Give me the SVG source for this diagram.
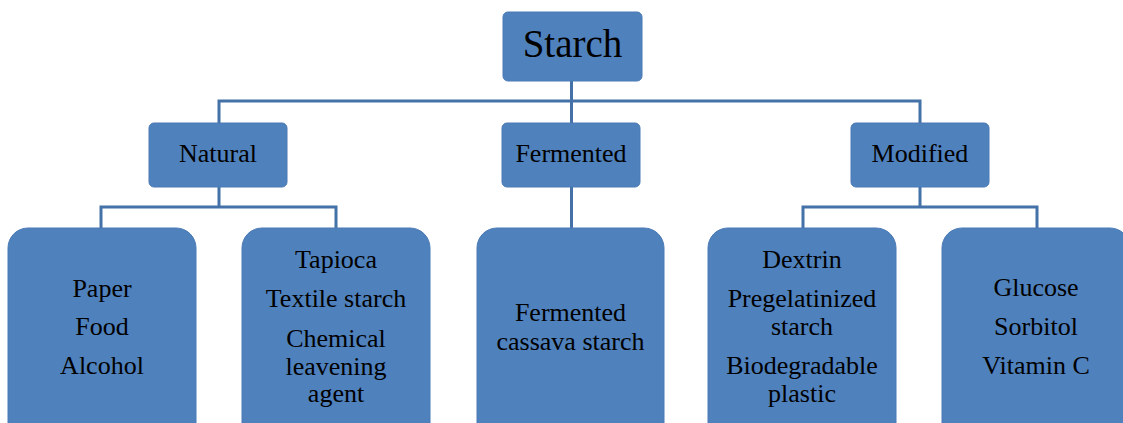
<svg xmlns="http://www.w3.org/2000/svg" width="1123" height="423" viewBox="0 0 1123 423">
<style>
.box{fill:#4F81BD;stroke:#4A7AB5;stroke-width:1}
.t{font-family:"Liberation Serif","Times New Roman",serif;fill:#000;text-anchor:middle}
.m{font-size:26px}
.c{fill:none;stroke:#4472A8;stroke-width:3}
</style>
<rect width="1123" height="423" fill="#fff"/>
<g id="connectors">
<path class="c" d="M571.5 81V101M219 123V101H920V123"/>
<path class="c" d="M571.5 101V123"/>
<path class="c" d="M219 187V207M101 228V207H336V228"/>
<path class="c" d="M571.5 187V228"/>
<path class="c" d="M920 187V207M803 228V207H1037V228"/>
</g>
<g id="starch">
<rect class="box" x="503" y="12" width="139" height="69" rx="5"/>
<text class="t" x="572.5" y="57" font-size="39">Starch</text>
</g>
<g id="natural">
<rect class="box" x="149" y="123" width="138" height="64" rx="5"/>
<text class="t m" x="218" y="162">Natural</text>
</g>
<g id="fermented">
<rect class="box" x="502" y="123" width="138" height="64" rx="5"/>
<text class="t m" x="571" y="162">Fermented</text>
</g>
<g id="modified">
<rect class="box" x="851" y="123" width="138" height="64" rx="5"/>
<text class="t m" x="920" y="162">Modified</text>
</g>
<g id="natural-uses">
<rect class="box" x="8" y="228" width="188" height="220" rx="20"/>
<text class="t m" x="102" y="297">Paper</text>
<text class="t m" x="102" y="335">Food</text>
<text class="t m" x="102" y="374">Alcohol</text>
</g>
<g id="natural-products">
<rect class="box" x="242" y="228" width="188" height="220" rx="20"/>
<text class="t m" x="336" y="268">Tapioca</text>
<text class="t m" x="336" y="307">Textile starch</text>
<text class="t m" x="336" y="347">Chemical</text>
<text class="t m" x="336" y="375">leavening</text>
<text class="t m" x="336" y="402">agent</text>
</g>
<g id="fermented-products">
<rect class="box" x="477" y="228" width="187" height="220" rx="20"/>
<text class="t m" x="570.5" y="321">Fermented</text>
<text class="t m" x="570.5" y="350">cassava starch</text>
</g>
<g id="modified-products">
<rect class="box" x="708" y="228" width="188" height="220" rx="20"/>
<text class="t m" x="802" y="268">Dextrin</text>
<text class="t m" x="802" y="307">Pregelatinized</text>
<text class="t m" x="802" y="335">starch</text>
<text class="t m" x="802" y="374">Biodegradable</text>
<text class="t m" x="802" y="402">plastic</text>
</g>
<g id="modified-derivatives">
<rect class="box" x="942" y="228" width="188" height="220" rx="20"/>
<text class="t m" x="1036" y="296">Glucose</text>
<text class="t m" x="1036" y="335">Sorbitol</text>
<text class="t m" x="1036" y="374">Vitamin C</text>
</g>
</svg>
